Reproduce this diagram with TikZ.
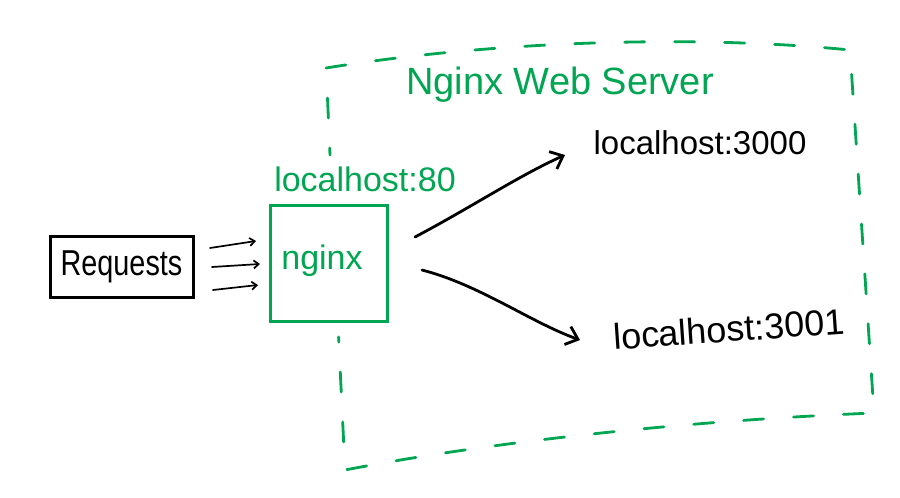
\documentclass[tikz,border=0pt]{standalone}
\usepackage{fontspec}
\setmainfont{Liberation Sans}
\usetikzlibrary{arrows.meta}
\definecolor{ngreen}{RGB}{0,166,81}
\begin{document}
\begin{tikzpicture}[x=1pt,y=-1pt,
  blackbox/.style={draw=black, line width=3pt, inner sep=0pt},
  greenbox/.style={draw=ngreen, line width=3pt, inner sep=0pt},
  gtext/.style={text=ngreen, inner sep=0pt},
  btext/.style={text=black, inner sep=0pt},
  framedash/.style={draw=ngreen, line width=2.8pt, line cap=round, dash pattern=on 20pt off 30pt},
  smallarrow/.style={draw=black, line width=1.7pt, line cap=round, -{Straight Barb[length=5pt,width=8pt]}},
  bigarrow/.style={draw=black, line width=2.8pt, line cap=round, -{Straight Barb[length=11pt,width=19pt]}}
]
\useasboundingbox (0,0) rectangle (900,498);

% dashed server frame (left edge interrupted behind the nginx box)
\coordinate (ftl) at (326,68);
\coordinate (ftr) at (850,50);
\coordinate (fbr) at (874,413);
\coordinate (fbl) at (345,470);
\coordinate (fgapt) at (330,155);
\coordinate (fgapb) at (338.6,337);
\draw[framedash] (ftl) .. controls (500,40) and (700,35) .. (ftr) -- (fbr)
  .. controls (700,420) and (500,440) .. (fbl) -- (fgapb);
\draw[framedash] (ftl) ++(1.5,30) -- (fgapt);

\node[gtext] (title) at (560,85) {\fontsize{38}{38}\selectfont Nginx Web Server};

% requests box
\node[blackbox, minimum width=143pt, minimum height=61pt] (req) at (121.5,266.5)
  {\fontsize{36}{36}\selectfont\scalebox{0.8}[1]{Requests}};

% nginx box
\node[greenbox, minimum width=117pt, minimum height=116pt] (ngbox) at (328.5,263) {};
\node[gtext] (ngtext) at (322,261) {\fontsize{34}{34}\selectfont nginx};
\node[gtext] (port80) at (365,179) {\fontsize{34}{34}\selectfont localhost:80};

% small request arrows
\coordinate (s1a) at (210,248); \coordinate (s1b) at (256,241);
\coordinate (s2a) at (212,267); \coordinate (s2b) at (260,264);
\coordinate (s3a) at (213,290); \coordinate (s3b) at (258,285);
\draw[smallarrow] (s1a) -- (s1b);
\draw[smallarrow] (s2a) -- (s2b);
\draw[smallarrow] (s3a) -- (s3b);

% targets
\node[btext] (p3000) at (700,143) {\fontsize{33}{33}\selectfont localhost:3000};
\node[btext, rotate=4] (p3001) at (729,329) {\fontsize{36}{36}\selectfont localhost:3001};

% routing arrows
\coordinate (r1a) at (415,237); \coordinate (r1b) at (565,155);
\coordinate (r2a) at (422,270); \coordinate (r2b) at (580,340);
\draw[bigarrow] (r1a) .. controls (470,208) and (520,175) .. (r1b);
\draw[bigarrow] (r2a) .. controls (480,285) and (530,322) .. (r2b);
\end{tikzpicture}
\end{document}
